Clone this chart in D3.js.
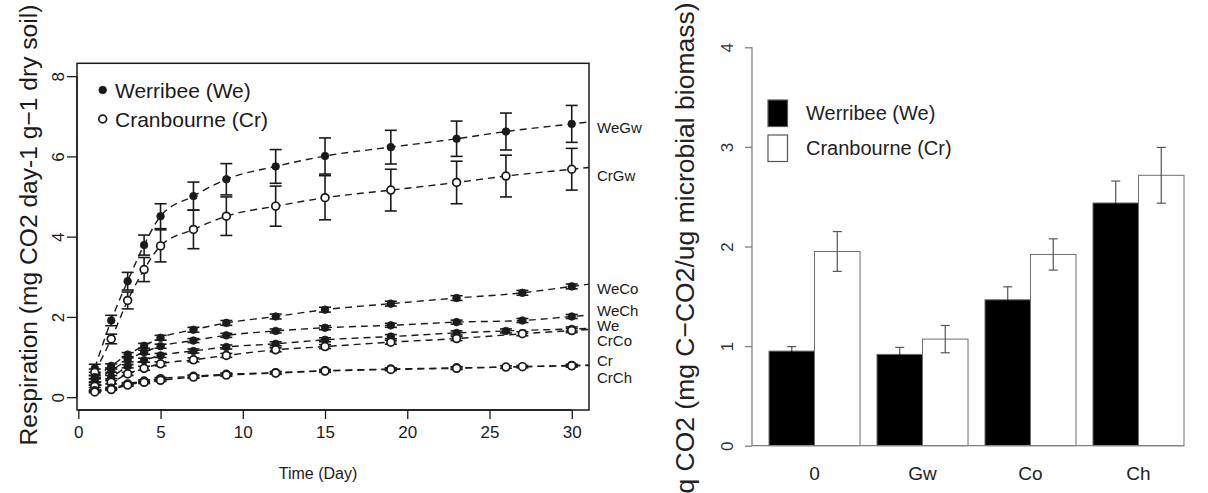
<!DOCTYPE html>
<html><head><meta charset="utf-8">
<script src="https://cdn.jsdelivr.net/npm/d3@7"></script>
<style>
body{margin:0;background:#fff}
svg{display:block}
text{font-family:"Liberation Sans",Arial,Helvetica,sans-serif}
</style>
</head><body>
<svg id="c" width="1208" height="493"></svg>
<script>
// ---------- Left panel data ----------
const daysA = [1,2,3,4,5,7,9,12,15,19,23,26,30];
const daysB = [1,2,3,4,5,7,9,12,15,19,23,27,30];
const xTicks = [0,5,10,15,20,25,30];
const yTicks = [0,2,4,6,8];

const WeGw    = [0.72,1.91,2.89,3.79,4.51,5.01,5.43,5.75,6.01,6.23,6.44,6.62,6.81];
const WeGwErr = [0.10,0.13,0.22,0.25,0.31,0.35,0.39,0.42,0.45,0.42,0.44,0.46,0.46];
const CrGw    = [0.62,1.45,2.41,3.18,3.77,4.18,4.51,4.76,4.97,5.16,5.35,5.51,5.68];
const CrGwErr = [0.08,0.12,0.21,0.30,0.40,0.48,0.48,0.50,0.55,0.52,0.53,0.52,0.52];
const WeCo    = [0.50,0.78,1.06,1.28,1.48,1.68,1.85,2.01,2.18,2.33,2.47,2.60,2.76];
const WeCoErr = [0.04,0.05,0.05,0.06,0.06,0.06,0.06,0.06,0.06,0.06,0.06,0.06,0.06];
const WeCh    = [0.42,0.66,0.93,1.12,1.27,1.41,1.54,1.65,1.73,1.79,1.87,1.91,2.01];
const WeChErr = [0.04,0.04,0.05,0.05,0.05,0.05,0.05,0.05,0.05,0.05,0.05,0.05,0.05];
const We      = [0.33,0.50,0.77,0.92,1.04,1.15,1.25,1.33,1.43,1.51,1.60,1.65,1.70];
const WeErr   = [0.03,0.04,0.04,0.05,0.05,0.05,0.05,0.05,0.05,0.05,0.05,0.05,0.05];
const CrCo    = [0.27,0.37,0.58,0.72,0.83,0.93,1.04,1.18,1.26,1.37,1.46,1.58,1.66];
const CrCoErr = [0.03,0.04,0.04,0.05,0.05,0.05,0.05,0.05,0.05,0.05,0.05,0.05,0.05];
const Cr      = [0.16,0.22,0.33,0.40,0.46,0.52,0.57,0.61,0.66,0.70,0.73,0.75,0.79];
const CrErr   = [0.02,0.02,0.03,0.03,0.03,0.03,0.03,0.03,0.03,0.03,0.03,0.03,0.03];
const CrCh    = [0.13,0.19,0.30,0.37,0.42,0.50,0.55,0.60,0.65,0.69,0.72,0.76,0.78];
const CrChErr = [0.02,0.02,0.03,0.03,0.03,0.03,0.03,0.03,0.03,0.03,0.03,0.03,0.03];

const seriesNames = ["WeGw","CrGw","WeCo","WeCh","We","CrCo","Cr","CrCh"];
const seriesDays  = [daysA,daysA,daysB,daysB,daysA,daysB,daysA,daysB];
const seriesVals  = [WeGw,CrGw,WeCo,WeCh,We,CrCo,Cr,CrCh];
const seriesErrs  = [WeGwErr,CrGwErr,WeCoErr,WeChErr,WeErr,CrCoErr,CrErr,CrChErr];
const seriesSite  = ["We","Cr","We","We","We","Cr","Cr","Cr"];
const endLabelAt  = [6.72,5.52,2.71,2.17,1.78,1.40,0.91,0.50];
const legendLeft  = ["Werribee (We)","Cranbourne (Cr)"];

// ---------- Right panel data ----------
const cats   = ["0","Gw","Co","Ch"];
const qWe    = [0.95,0.917,1.465,2.437];
const qWeErr = [0.045,0.07,0.13,0.22];
const qCr    = [1.95,1.07,1.92,2.715];
const qCrErr = [0.2,0.137,0.157,0.28];
const qTicks = [0,1,2,3,4];
const legendRight = ["Werribee (We)","Cranbourne (Cr)"];

const svg = d3.select("#c");
const ink = "#1a1a1a";

// ================= LEFT PANEL =================
const L = {left:77, right:589, top:63.3, bottom:410};
const x = d3.scaleLinear().domain([-0.08,31.05]).range([L.left,L.right]);
const y = d3.scaleLinear().domain([-0.32,8.32]).range([L.bottom,L.top]);

const gL = svg.append("g");
gL.append("rect").attr("x",L.left).attr("y",L.top).attr("width",L.right-L.left).attr("height",L.bottom-L.top)
  .attr("fill","none").attr("stroke",ink).attr("stroke-width",1.5);

const xa = gL.append("g").attr("transform",`translate(0,${L.bottom})`)
  .call(d3.axisBottom(x).tickValues(xTicks).tickSize(9).tickPadding(7).tickFormat(d3.format("d")));
xa.select(".domain").attr("d",`M${x(0)},0H${x(30)}`).attr("stroke",ink).attr("stroke-width",1.3);
xa.selectAll(".tick line").attr("stroke",ink).attr("stroke-width",1.3);
xa.selectAll(".tick text").attr("font-size",17).attr("fill",ink).attr("font-family",null);

const ya = gL.append("g").attr("transform",`translate(${L.left},0)`)
  .call(d3.axisLeft(y).tickValues(yTicks).tickSize(10).tickFormat(d3.format("d")));
ya.select(".domain").attr("d",`M0,${y(0)}V${y(8)}`).attr("stroke",ink).attr("stroke-width",1.3);
ya.selectAll(".tick line").attr("stroke",ink).attr("stroke-width",1.3);
ya.selectAll(".tick text").attr("font-size",17).attr("fill",ink).attr("font-family",null)
  .attr("x",0).attr("dy",null).attr("text-anchor","middle").attr("dominant-baseline","central")
  .attr("transform","translate(-19,0) rotate(-90)");

gL.append("text").attr("transform",`translate(28,225) rotate(-90)`).attr("text-anchor","middle")
  .attr("dominant-baseline","central").attr("font-size",24.6).attr("fill",ink)
  .text("Respiration (mg CO2 day-1 g\u22121 dry soil)");
gL.append("text").attr("x",318).attr("y",473).attr("text-anchor","middle").attr("dominant-baseline","central")
  .attr("font-size",16).attr("fill",ink).text("Time (Day)");

const line = d3.line().x(d=>x(d[0])).y(d=>y(d[1])).curve(d3.curveMonotoneX);
gL.append("clipPath").attr("id","clipL").append("rect")
  .attr("x",L.left).attr("y",L.top).attr("width",L.right-L.left).attr("height",L.bottom-L.top);

seriesNames.forEach((nm,i)=>{
  const ds = seriesDays[i], vs = seriesVals[i];
  const pts = ds.map((d,j)=>[d,vs[j]]);
  const n = pts.length;
  const slope = (vs[n-1]-vs[n-2])/(ds[n-1]-ds[n-2]);
  pts.push([31.05, vs[n-1]+slope*(31.05-ds[n-1])]);
  gL.append("path").attr("d",line(pts)).attr("fill","none").attr("stroke",ink)
    .attr("stroke-width",1.4).attr("stroke-dasharray","7,5").attr("clip-path","url(#clipL)");
});

seriesNames.forEach((nm,i)=>{
  const ds = seriesDays[i], vs = seriesVals[i], es = seriesErrs[i];
  const g = gL.append("g").attr("stroke",ink).attr("stroke-width",1.6);
  ds.forEach((d,j)=>{
    const cx = x(d), y1 = y(vs[j]+es[j]), y0 = y(vs[j]-es[j]);
    g.append("line").attr("x1",cx).attr("x2",cx).attr("y1",y0).attr("y2",y1);
    g.append("line").attr("x1",cx-6).attr("x2",cx+6).attr("y1",y0).attr("y2",y0);
    g.append("line").attr("x1",cx-6).attr("x2",cx+6).attr("y1",y1).attr("y2",y1);
  });
});

seriesNames.forEach((nm,i)=>{
  const ds = seriesDays[i], vs = seriesVals[i];
  const filled = seriesSite[i]==="We";
  gL.append("g").selectAll("circle").data(ds.map((d,j)=>[d,vs[j]])).join("circle")
    .attr("cx",d=>x(d[0])).attr("cy",d=>y(d[1]))
    .attr("r",filled?3.8:3.9)
    .attr("fill",filled?ink:"#fff").attr("stroke",ink).attr("stroke-width",filled?0.8:1.7);
  gL.append("text").attr("x",597).attr("y",y(endLabelAt[i])).attr("dominant-baseline","central")
    .attr("font-size",15).attr("fill",ink).text(nm);
});

legendLeft.forEach((t,i)=>{
  const ly = 90 + i*29;
  gL.append("circle").attr("cx",102.7).attr("cy",ly).attr("r",i===0?3.8:3.9)
    .attr("fill",i===0?ink:"#fff").attr("stroke",ink).attr("stroke-width",i===0?0.8:1.7);
  gL.append("text").attr("x",115).attr("y",ly).attr("dominant-baseline","central")
    .attr("font-size",21).attr("fill",ink).text(t);
});

// ================= RIGHT PANEL =================
const R = {left:752, top:47.3, bottom:445.7};
const xb = d3.scaleBand().domain(cats).range([769,1184]).paddingInner(0.157).paddingOuter(0);
const xs = d3.scaleBand().domain(["We","Cr"]).range([0,xb.bandwidth()]);
const yb = d3.scaleLinear().domain([0,4]).range([R.bottom,R.top]);
const axisCol = "#808080";
const gR = svg.append("g");

const groups = cats.map((c,i)=>({c, vals:[{s:"We",v:qWe[i],e:qWeErr[i]},{s:"Cr",v:qCr[i],e:qCrErr[i]}]}));
groups.forEach(g=>{
  g.vals.forEach(b=>{
    const bx = xb(g.c)+xs(b.s);
    gR.append("rect").attr("x",bx).attr("y",yb(b.v)).attr("width",xs.bandwidth()).attr("height",yb(0)-yb(b.v))
      .attr("fill",b.s==="We"?"#000":"#fff").attr("stroke","#6e6e6e").attr("stroke-width",1);
  });
});
groups.forEach(g=>{
  g.vals.forEach(b=>{
    const cx = xb(g.c)+xs(b.s)+xs.bandwidth()/2;
    const y1 = yb(b.v+b.e);
    // lower half is drawn in the bar colour (invisible on the black bars)
    const low = b.s==="We" ? "#000" : "#555";
    const y0 = yb(b.v-b.e), ym = yb(b.v);
    const eg = gR.append("g").attr("stroke-width",1.2);
    eg.append("line").attr("x1",cx).attr("x2",cx).attr("y1",ym).attr("y2",y1).attr("stroke","#555");
    eg.append("line").attr("x1",cx-4.5).attr("x2",cx+4.5).attr("y1",y1).attr("y2",y1).attr("stroke","#555");
    eg.append("line").attr("x1",cx).attr("x2",cx).attr("y1",ym).attr("y2",y0).attr("stroke",low);
    eg.append("line").attr("x1",cx-4.5).attr("x2",cx+4.5).attr("y1",y0).attr("y2",y0).attr("stroke",low);
  });
});

const yra = gR.append("g").attr("transform",`translate(${R.left},0)`)
  .call(d3.axisLeft(yb).tickValues(qTicks).tickSize(7).tickFormat(d3.format("d")));
yra.select(".domain").attr("d",`M0,${yb(0)}V${yb(4)}`).attr("stroke",axisCol).attr("stroke-width",1.3);
yra.selectAll(".tick line").attr("stroke",axisCol).attr("stroke-width",1.3);
yra.selectAll(".tick text").attr("font-size",17).attr("fill","#333").attr("font-family",null)
  .attr("x",0).attr("dy",null).attr("text-anchor","middle").attr("dominant-baseline","central")
  .attr("transform","translate(-25,0) rotate(-90)");
gR.append("line").attr("x1",R.left).attr("x2",1184).attr("y1",yb(0)).attr("y2",yb(0))
  .attr("stroke",axisCol).attr("stroke-width",1.3);

gR.append("g").selectAll("text").data(cats).join("text")
  .attr("x",d=>xb(d)+xb.bandwidth()/2).attr("y",473).attr("text-anchor","middle").attr("dominant-baseline","central")
  .attr("font-size",19).attr("fill","#222").text(d=>d);

gR.append("text").attr("transform",`translate(685,248) rotate(-90)`).attr("text-anchor","middle")
  .attr("dominant-baseline","central").attr("font-size",26.5).attr("fill","#222")
  .text("q CO2 (mg C\u2212CO2/ug microbial biomass)");

legendRight.forEach((t,i)=>{
  const ly = 113 + i*35;
  gR.append("rect").attr("x",768).attr("y",ly-13).attr("width",19.5).attr("height",26.5)
    .attr("fill",i===0?"#000":"#fff").attr("stroke","#555").attr("stroke-width",1.2);
  gR.append("text").attr("x",806).attr("y",ly).attr("dominant-baseline","central")
    .attr("font-size",20).attr("fill","#222").text(t);
});
</script>
</body></html>
